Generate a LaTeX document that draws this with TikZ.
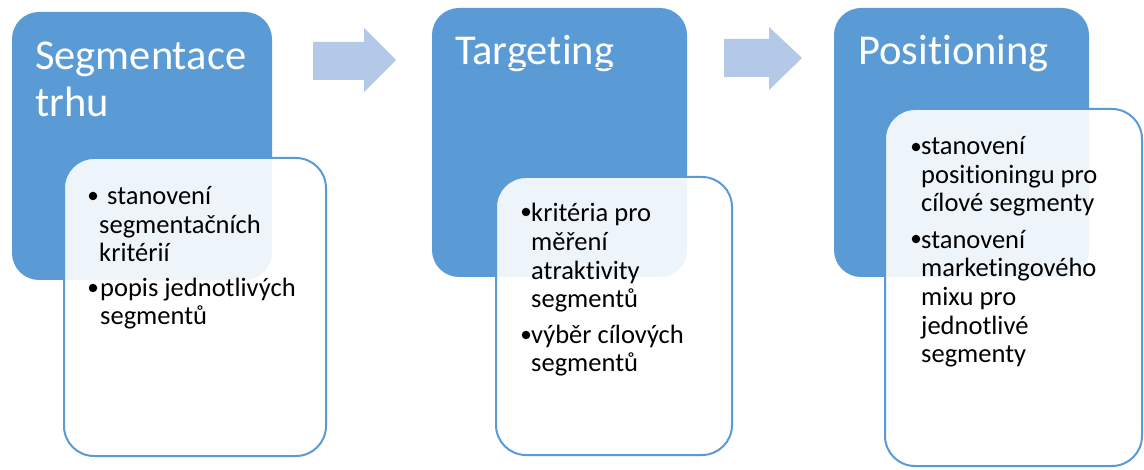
\documentclass[tikz,border=0pt]{standalone}
\usepackage{fontspec}
\setmainfont{Carlito}[Ligatures=NoCommon]
\definecolor{boxblue}{HTML}{5B9BD5}
\definecolor{arrowblue}{HTML}{B4C8E8}
\definecolor{spellred}{HTML}{E06666}
\begin{document}
\begin{tikzpicture}[x=1pt,y=-1pt,
  bluebox/.style={fill=boxblue, draw=none, rounded corners=27pt, inner sep=0pt},
  whitebox/.style={fill=white, fill opacity=0.9, draw=boxblue, draw opacity=1, line width=2pt, rounded corners=30pt, inner sep=0pt},
  titletext/.style={anchor=base west, inner sep=0pt, text=white, align=left, font=\fontsize{42.5}{47}\selectfont},
  bodytext/.style={anchor=base west, inner sep=0pt, text=black, align=left, font=\fontsize{26.5}{28.7}\selectfont},
  bulletmark/.style={circle, fill=black, draw=none, minimum size=8.5pt, inner sep=0pt},
  flowarrow/.style={fill=arrowblue, draw=none}]
\useasboundingbox (0,0) rectangle (1144,470);
\fill[white] (0,0) rectangle (1144,470);

% stage 1 (multi-line nodes are placed by the baseline of their last line)
\node[bluebox, minimum width=260, minimum height=268] (b1) at (142,146) {};
\node[titletext] (t1) at (35,117) {Segmentace\\trhu};
\node[whitebox, minimum width=262, minimum height=298] (w1) at (195,307) {};
\node[bulletmark] (p1a) at (93,196) {};
\node[bodytext] (i1a) at (99,262) {\hspace{8pt}stanovení\\segmentačních\\kritérií};
\node[bulletmark] (p1b) at (93,288) {};
\node[bodytext] (i1b) at (100,325) {popis jednotlivých\\segmentů};

% stage 2
\node[bluebox, minimum width=255, minimum height=269] (b2) at (559.5,142.5) {};
\node[titletext] (t2) at (455,65) {Targeting};
\draw[spellred, line width=1pt] (t2.base west) ++(0,2.5) coordinate (u2a) -- ++(158,0) coordinate (u2b);
\node[whitebox, minimum width=236, minimum height=278] (w2) at (614,316) {};
\node[bulletmark] (p2a) at (526,212) {};
\node[bodytext] (i2a) at (531,308) {kritéria pro\\měření\\atraktivity\\segmentů};
\node[bulletmark] (p2b) at (526,335) {};
\node[bodytext] (i2b) at (531,372) {výběr cílových\\segmentů};

% stage 3
\node[bluebox, minimum width=255, minimum height=269] (b3) at (961.5,142.5) {};
\node[titletext] (t3) at (858,65) {Positioning};
\node[whitebox, minimum width=257, minimum height=357] (w3) at (1013.5,287.5) {};
\node[bulletmark] (p3a) at (916,147) {};
\node[bodytext] (i3a) at (921,212) {stanovení\\positioningu pro\\cílové segmenty};
\node[bulletmark] (p3b) at (916,239) {};
\node[bodytext] (i3b) at (921,363) {stanovení\\marketingového\\mixu pro\\jednotlivé\\segmenty};

% arrows
\fill[flowarrow] (313,42) -- (364,42) -- (364,28) -- (396,60) -- (364,92) -- (364,80) -- (313,80) -- cycle;
\fill[flowarrow] (724,39) -- (769,39) -- (769,27) -- (802,58) -- (769,90) -- (769,77) -- (724,77) -- cycle;
\end{tikzpicture}
\end{document}
